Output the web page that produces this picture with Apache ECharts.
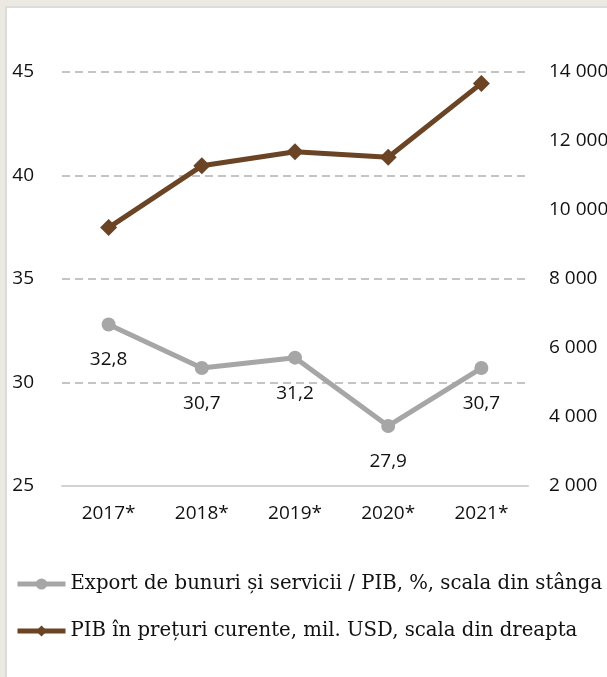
<!DOCTYPE html>
<html>
<head>
<meta charset="utf-8">
<script src="https://cdn.jsdelivr.net/npm/echarts@6/dist/echarts.min.js"></script>
<style>
html,body{margin:0;padding:0;width:607px;height:677px;background:#ece8e2;overflow:hidden;}
#panel{position:absolute;left:5px;top:6px;width:602px;height:671px;background:#fff;border-left:2px solid #dcdcdc;border-top:2px solid #dcdcdc;box-sizing:border-box;}
#chart{position:absolute;left:0;top:0;width:607px;height:677px;}
</style>
</head>
<body>
<div id="panel"></div>
<div id="chart"></div>
<script>
const categories = ['2017*', '2018*', '2019*', '2020*', '2021*'];
const exportShare = [32.8, 30.7, 31.2, 27.9, 30.7];
const gdp = [9490, 11280, 11690, 11530, 13670];
const seriesNames = ['Export de bunuri și servicii / PIB, %, scala din stânga', 'PIB în prețuri curente, mil. USD, scala din dreapta'];

const chart = echarts.init(document.getElementById('chart'), null, {renderer: 'canvas'});
const axisFont = {fontFamily: 'Open Sans', fontSize: 19, color: '#111'};
const fmtSpace = v => String(v).replace(/\B(?=(\d{3})+(?!\d))/g, ' ');
chart.setOption({
  animation: false,
  backgroundColor: 'transparent',
  grid: {left: 62, right: 79, top: 72, height: 414, containLabel: false, outerBoundsMode: 'none'},
  legend: {
    orient: 'vertical',
    left: 15,
    top: 574,
    padding: 0,
    itemWidth: 48,
    itemHeight: 14,
    itemGap: 27,
    lineStyle: {width: 5},
    textStyle: {fontFamily: 'DejaVu Serif', fontSize: 19.7, color: '#111'},
    data: seriesNames
  },
  xAxis: {
    type: 'category',
    data: categories,
    boundaryGap: true,
    axisLine: {show: true, lineStyle: {color: '#d3d3d3', width: 2}},
    axisTick: {show: false},
    axisLabel: Object.assign({margin: 18}, axisFont)
  },
  yAxis: [
    {
      type: 'value', min: 25, max: 45, interval: 5, position: 'left',
      axisLine: {show: false}, axisTick: {show: false},
      axisLabel: Object.assign({margin: 28}, axisFont),
      splitLine: {show: true, lineStyle: {color: '#c4c4c4', width: 2, type: [8, 5]}}
    },
    {
      type: 'value', min: 2000, max: 14000, interval: 2000, position: 'right',
      axisLine: {show: false}, axisTick: {show: false},
      axisLabel: Object.assign({margin: 21, formatter: fmtSpace}, axisFont),
      splitLine: {show: false}
    }
  ],
  series: [
    {
      name: seriesNames[0], type: 'line', yAxisIndex: 0, data: exportShare,
      symbol: 'circle', symbolSize: 14,
      lineStyle: {color: '#a6a6a6', width: 5},
      itemStyle: {color: '#a6a6a6'},
      label: {show: true, position: 'bottom', distance: 19, fontFamily: 'Open Sans', fontSize: 19, color: '#111',
        formatter: p => String(p.value).replace('.', ',')},
      z: 2
    },
    {
      name: seriesNames[1], type: 'line', yAxisIndex: 1, data: gdp,
      symbol: 'diamond', symbolSize: 17,
      lineStyle: {color: '#6a4424', width: 5},
      itemStyle: {color: '#6a4424'},
      z: 3
    }
  ]
});
</script>
</body>
</html>
